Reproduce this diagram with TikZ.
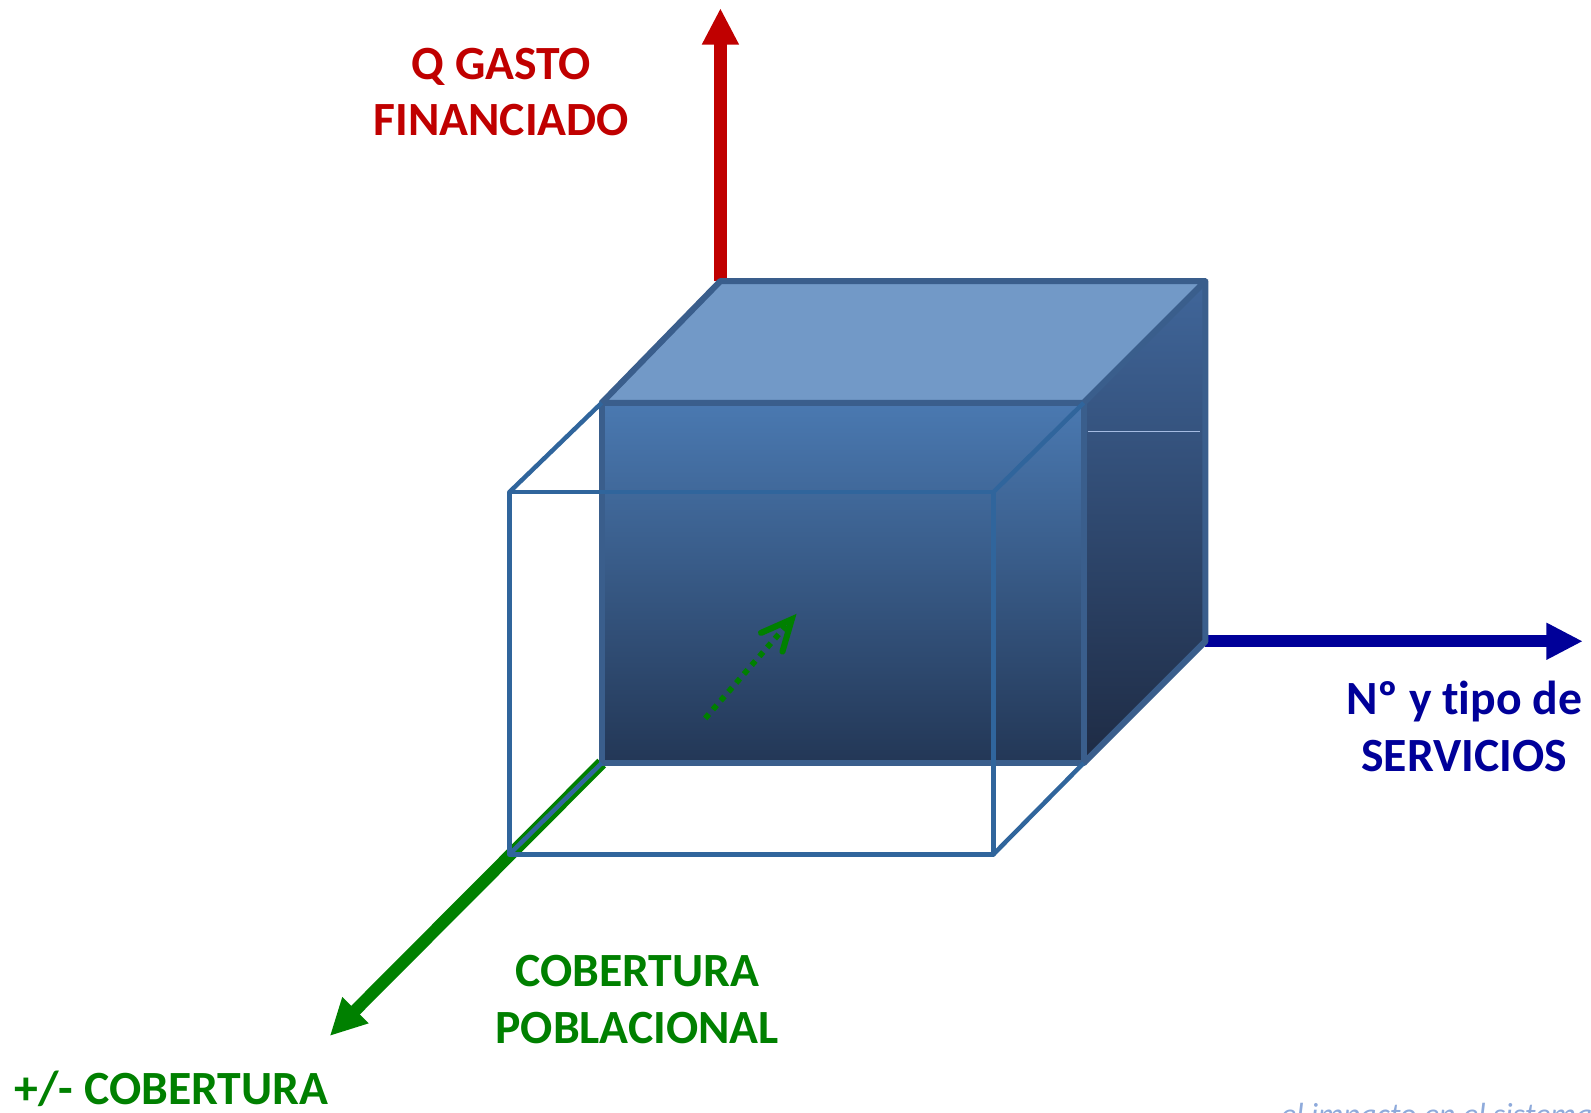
\documentclass[tikz,border=0pt]{standalone}
\usepackage{fontspec}
\setmainfont{Carlito}[Ligatures={NoCommon,NoContextual}]
\usetikzlibrary{arrows.meta}
\definecolor{cred}{HTML}{C00000}
\definecolor{cgreen}{HTML}{008000}
\definecolor{cnavy}{HTML}{000099}
\definecolor{cedge}{HTML}{3A5E8C}
\definecolor{cwire}{HTML}{30659C}
\definecolor{ctop}{HTML}{7299C7}
\definecolor{cfrontT}{HTML}{4A79B1}
\definecolor{cfrontB}{HTML}{233756}
\definecolor{csideT}{HTML}{40669A}
\definecolor{csideB}{HTML}{1E2B44}
\definecolor{cnote}{HTML}{8EAADB}
\tikzset{
  lbl/.style={font=\bfseries\fontsize{23.5}{28}\selectfont,anchor=base,inner sep=0pt},
  cubeedge/.style={draw=cedge,line width=3pt,line join=round},
  wire/.style={draw=cwire,line width=2.2pt,line join=round},
  axisarrow/.style={line width=6pt,-{Triangle[width=17pt,length=18pt]}}
}
\begin{document}
\begin{tikzpicture}[x=0.5pt,y=-0.5pt]
\useasboundingbox (0,0) rectangle (1568,1096);
% cube corners
\coordinate (A) at (593,397);  % front top left
\coordinate (B) at (1068,397); % front top right
\coordinate (C) at (1068,752); % front bottom right
\coordinate (D) at (593,752);  % front bottom left
\coordinate (E) at (710,277);  % back top left
\coordinate (F) at (1188,277); % back top right
\coordinate (G) at (1188,632); % back bottom right
% wire front
\coordinate (WA) at (502,485);
\coordinate (WB) at (979,485);
\coordinate (WC) at (979,842);
\coordinate (WD) at (502,842);
% axis ends
\coordinate (redtip) at (710,8);
\coordinate (bluetip) at (1560,632);
\coordinate (greentip) at (325,1021);
% axes
\draw[axisarrow,cred] (E) -- (redtip);
\draw[axisarrow,cnavy] (G) -- (bluetip);
\draw[axisarrow,cgreen] (D) -- (greentip);
% solid cube
\fill[ctop] (A) -- (E) -- (F) -- (B) -- cycle;
\shade[top color=csideT,bottom color=csideB] (B) -- (F) -- (G) -- (C) -- cycle;
\shade[top color=cfrontT,bottom color=cfrontB] (A) rectangle (C);
\draw[cubeedge] (A) -- (E) -- (F) -- (B) -- cycle;
\draw[cubeedge] (F) -- (G) -- (C);
\draw[cubeedge] (A) rectangle (C);
\coordinate (hl1) at (1072,425);
\coordinate (hl2) at (1183,425);
\draw[color=cnote!80!white,line width=0.6pt] (hl1) -- (hl2);
% wire box
\draw[wire] (WA) rectangle (WC);
\draw[wire] (WA) -- (A);
\draw[wire] (WB) -- (B);
\draw[wire] (WC) -- (C);
\draw[wire] (WD) -- (D);
% dotted arrow
\coordinate (ds) at (695,708);
\coordinate (de) at (785,605);
\draw[cgreen,line width=2.8pt,dash pattern=on 2.8pt off 3pt,-{Straight Barb[length=15pt,width=14pt,line cap=round,line width=3pt]}] (ds) -- (de);
% labels
\node[lbl,text=cred] (q1) at (494,78) {Q GASTO};
\node[lbl,text=cred] (q2) at (494,134) {FINANCIADO};
\node[lbl,text=cnavy] (s1) at (1443,704) {Nº y t\kern0pt ipo de};
\node[lbl,text=cnavy] (s2) at (1443,760) {SERVICIOS};
\node[lbl,text=cgreen] (c1) at (628,972) {COBERTURA};
\node[lbl,text=cgreen] (c2) at (628,1028) {POBLACIONAL};
\node[lbl,text=cgreen,anchor=base west] (c3) at (14,1089) {+/- COBERTURA};
\node[anchor=base west,inner sep=0pt,text=cnote,font=\itshape\fontsize{15.8}{18}\selectfont] (note) at (1262,1109) {el impacto en el sistema};
\end{tikzpicture}
\end{document}
